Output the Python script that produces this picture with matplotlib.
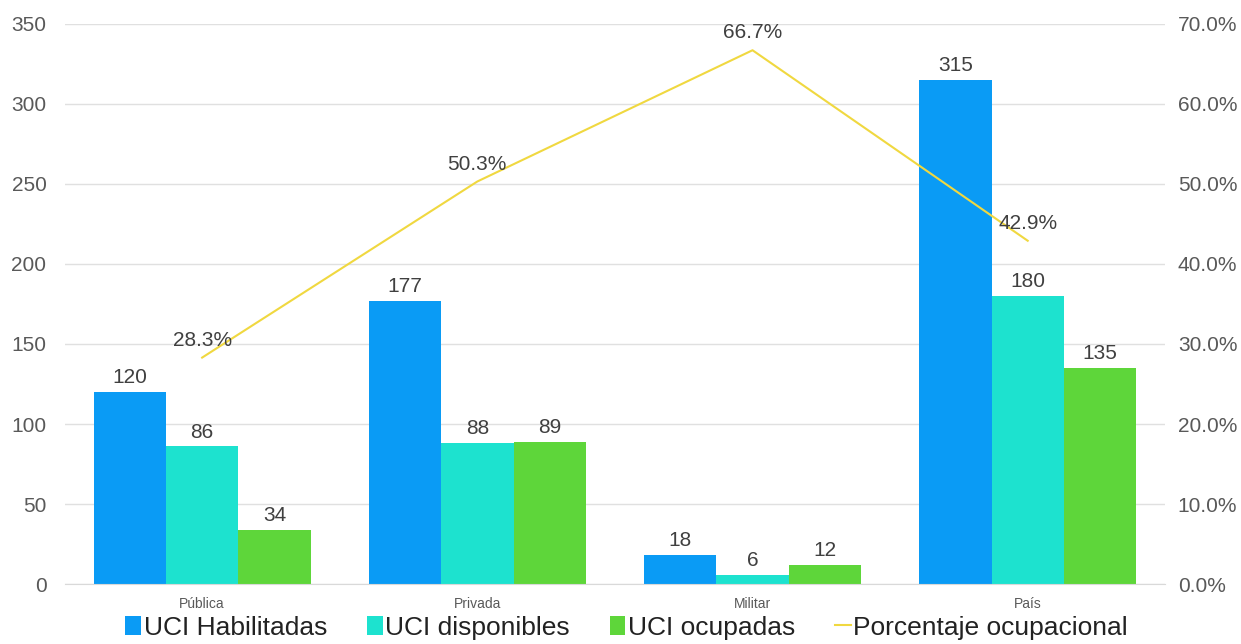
import matplotlib
matplotlib.use("Agg")
import matplotlib.pyplot as plt
import numpy as np

plt.rcParams["font.family"] = ["Liberation Sans", "DejaVu Sans"]

categories = ["Pública", "Privada", "Militar", "País"]
habilitadas = [120, 177, 18, 315]
disponibles = [86, 88, 6, 180]
ocupadas = [34, 89, 12, 135]
porcentaje = [28.3, 50.3, 66.7, 42.9]

series = [
    ("UCI Habilitadas", habilitadas, "#0A9BF5"),
    ("UCI disponibles", disponibles, "#1DE2CF"),
    ("UCI ocupadas", ocupadas, "#5ED63A"),
]
text_color = "#404040"
tick_color = "#595959"

fig = plt.figure(figsize=(12.41, 6.44), dpi=100)
ax = fig.add_axes([0.052, 0.093, 0.887, 0.87])
x = np.arange(len(categories))
width = 0.263

for i, (name, vals, color) in enumerate(series):
    pos = x + (i - 1) * width
    ax.bar(pos, vals, width, color=color, label=name, zorder=2)
    for px, v in zip(pos, vals):
        ax.text(px, v + 3, str(v), ha="center", va="bottom", fontsize=15, color=text_color)

ax.set_ylim(0, 350)
ax.set_xlim(-0.5, len(categories) - 0.5)
ax.set_yticks(range(0, 351, 50))
ax.grid(axis="y", color="#E0E0E0", linewidth=1, zorder=0)
ax.set_axisbelow(True)
ax.set_xticks(x)
ax.set_xticklabels(categories, fontsize=10, color=tick_color)
ax.tick_params(axis="y", labelsize=15, labelcolor=tick_color, length=0, pad=13)
ax.tick_params(axis="x", length=0, pad=9)
for s in ["top", "right", "left"]:
    ax.spines[s].set_visible(False)
ax.spines["bottom"].set_color("#D9D9D9")

ax2 = ax.twinx()
ax2.plot(x, porcentaje, color="#F0D840", linewidth=1.5, label="Porcentaje ocupacional", zorder=3)
for px, v in zip(x, porcentaje):
    ax2.text(px, v + 1.0, f"{v:.1f}%", ha="center", va="bottom", fontsize=15, color=text_color)
ax2.set_ylim(0, 70)
ax2.set_yticks(range(0, 71, 10))
ax2.set_yticklabels([f"{t:.1f}%" for t in range(0, 71, 10)])
ax2.tick_params(axis="y", labelsize=15, labelcolor=tick_color, length=0, pad=9)
for s in ax2.spines.values():
    s.set_visible(False)

h1, l1 = ax.get_legend_handles_labels()
h2, l2 = ax2.get_legend_handles_labels()
leg = fig.legend(h1 + h2, l1 + l2, loc="lower center", bbox_to_anchor=(0.505, -0.03), ncol=4,
                 frameon=False, fontsize=19, handlelength=0.6, handleheight=0.7,
                 handletextpad=0.1, columnspacing=1.5)
for t in leg.get_texts():
    t.set_color("#222222")

fig.savefig("out.png", dpi=100)
